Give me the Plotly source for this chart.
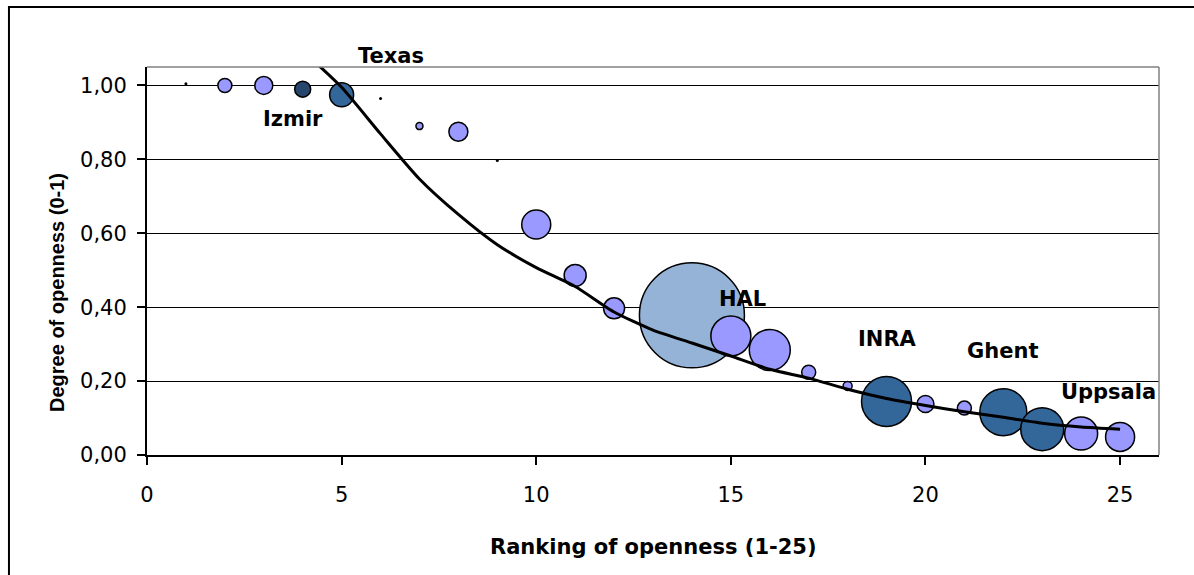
import plotly.graph_objects as go

# ---- data ----
rank = [1, 2, 3, 4, 5, 6, 7, 8, 9, 10, 11, 12, 14, 15, 16, 17, 18, 19, 20, 21, 22, 23, 24, 25]
openness = [1.005, 1.00, 1.00, 0.99, 0.975, 0.965, 0.89, 0.875, 0.797, 0.624, 0.486, 0.397,
            0.378, 0.322, 0.284, 0.224, 0.187, 0.145, 0.138, 0.127, 0.116, 0.070, 0.058, 0.049]
bubble_size = [3, 14, 18, 16, 24, 3, 7, 19, 3, 29, 22, 21,
               105, 40, 41, 14, 9, 50, 17, 14, 47, 43, 33, 29]
group = ["dot", "light", "light", "navy", "dark", "dot", "light", "light", "dot", "light", "light", "light",
         "hal", "light", "light", "light", "light", "dark", "light", "light", "dark", "dark", "light", "light"]

trend_x = [4.3, 5, 6, 7, 8, 9, 10, 11, 12, 13, 14, 15, 16, 17, 18, 19, 20, 21, 22, 23, 24, 25]
trend_y = [1.065, 0.995, 0.869, 0.747, 0.651, 0.569, 0.507, 0.456, 0.387, 0.338, 0.303, 0.268,
           0.232, 0.208, 0.178, 0.153, 0.134, 0.117, 0.102, 0.086, 0.076, 0.070]

label_text = ["Texas", "Izmir", "HAL", "INRA", "Ghent", "Uppsala"]
label_x = [6.28, 3.76, 15.29, 19.03, 21.99, 24.69]
label_y = [1.081, 0.908, 0.422, 0.314, 0.281, 0.170]

x_ticks = [0, 5, 10, 15, 20, 25]
y_ticks = [0, 0.2, 0.4, 0.6, 0.8, 1.0]
y_max = 1.05

palette = {"dot": "#000000", "light": "#9999FF", "navy": "#26466C", "dark": "#336699", "hal": "#95B3D7"}

colors = [palette[g] for g in group]
line_w = [0 if g == "dot" else 1.5 for g in group]

fig = go.Figure()
fig.add_trace(go.Scatter(
    x=rank, y=openness, mode="markers",
    marker=dict(size=bubble_size, sizemode="diameter", color=colors, opacity=1,
                line=dict(color="#000000", width=line_w)),
    showlegend=False, hoverinfo="x+y", cliponaxis=False,
))
fig.add_trace(go.Scatter(
    x=trend_x, y=trend_y, mode="lines",
    line=dict(color="#000000", width=3, shape="spline", smoothing=0.6),
    showlegend=False, hoverinfo="skip",
))

for t, lx, ly in zip(label_text, label_x, label_y):
    fig.add_annotation(x=lx, y=ly / y_max, xref="x", yref="paper", text=t, showarrow=False,
                       font=dict(family="DejaVu Sans", size=21, color="#000000", weight="bold"),
                       xanchor="center", yanchor="middle")

# axis titles
fig.add_annotation(x=0.5, y=-0.237, xref="paper", yref="paper", text="Ranking of openness (1-25)",
                   showarrow=False, xanchor="center", yanchor="middle",
                   font=dict(family="DejaVu Sans", size=21, color="#000000", weight="bold"))
fig.add_annotation(x=-0.089, y=0.42, xref="paper", yref="paper", text="Degree of openness (0-1)",
                   showarrow=False, xanchor="center", yanchor="middle", textangle=-90,
                   font=dict(family="Liberation Sans", size=20, color="#000000", weight="bold"))

# outer frame (left + top visible) and plot-area top/right borders
fig.add_shape(type="rect", xref="paper", yref="paper", x0=-0.1364, x1=1.2, y0=-0.6, y1=1.1546,
              line=dict(color="#000000", width=2), fillcolor="rgba(0,0,0,0)", layer="above")
fig.add_shape(type="line", xref="paper", yref="paper", x0=0, x1=1, y0=1, y1=1,
              line=dict(color="#808080", width=1.5))
fig.add_shape(type="line", xref="paper", yref="paper", x0=1, x1=1, y0=0, y1=1,
              line=dict(color="#808080", width=1.5))

fig.update_layout(
    width=1194, height=575,
    margin=dict(l=147, r=35, t=67, b=120),
    paper_bgcolor="#FFFFFF", plot_bgcolor="#FFFFFF",
    separators=", ",
    showlegend=False,
    xaxis=dict(range=[0, 26], tickvals=x_ticks, showgrid=False, zeroline=False,
               showline=True, linecolor="#000000", linewidth=2,
               ticks="outside", ticklen=8, tickwidth=1.5, tickcolor="#000000",
               tickfont=dict(family="DejaVu Sans", size=21, color="#000000"),
               ticklabelstandoff=12),
    yaxis=dict(range=[0, y_max], tickvals=y_ticks, tickformat=".2f", showgrid=True,
               gridcolor="#000000", gridwidth=1.2, zeroline=False,
               showline=True, linecolor="#000000", linewidth=2,
               ticks="outside", ticklen=8, tickwidth=1.5, tickcolor="#000000",
               tickfont=dict(family="DejaVu Sans", size=21, color="#000000"),
               ticklabelstandoff=6),
)

fig.write_html("out.html", config={"displayModeBar": False},
               post_script="document.body.style.margin='0px';document.body.style.padding='0px';")
